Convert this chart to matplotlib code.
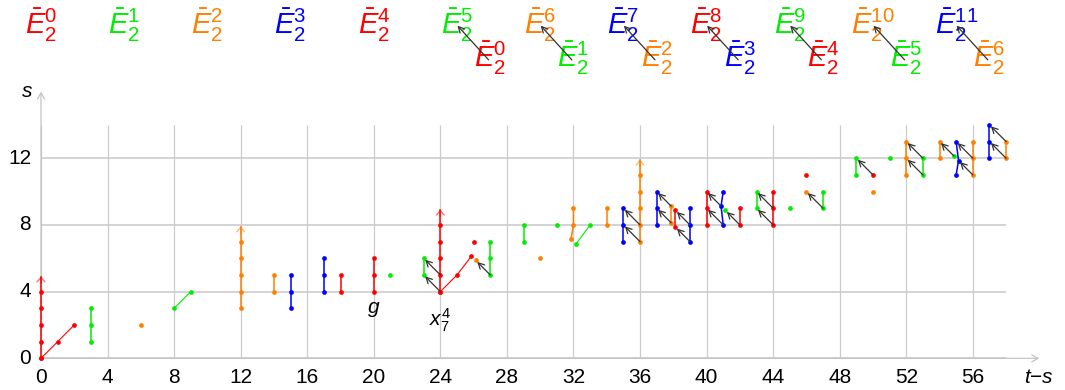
import matplotlib
matplotlib.use("Agg")
import matplotlib.pyplot as plt
from matplotlib.patches import FancyArrowPatch

plt.rcParams['font.family'] = ['Liberation Sans', 'DejaVu Sans']
plt.rcParams['mathtext.fontset'] = 'custom'
plt.rcParams['mathtext.rm'] = 'Liberation Sans'
plt.rcParams['mathtext.it'] = 'Liberation Sans:italic'
plt.rcParams['mathtext.bf'] = 'Liberation Sans:bold'

# ---- data -------------------------------------------------------------
x_ticks = [0, 4, 8, 12, 16, 20, 24, 28, 32, 36, 40, 44, 48, 52, 56]
y_ticks = [0, 4, 8, 12]

palette = ['#ff0000', '#00ee00', '#ff8000', '#0000ff']   # E^0, E^1, E^2, E^3 (mod 4)

# chains of classes joined by multiplication, one list per summand colour
red_chains = [
    [(0, 0), (0, 1), (0, 2), (0, 3), (0, 4)],
    [(0, 0), (1, 1), (2, 2)],
    [(18, 4), (18, 5)],
    [(20, 4), (20, 5), (20, 6)],
    [(24, 4), (24, 5), (24, 6), (24, 7), (24, 8)],
    [(24, 4), (25, 5), (25.87, 6.13)],
    [(38.13, 7.87), (38.13, 8.87)],
    [(40, 8), (40, 9), (40, 10)],
    [(42, 8), (42, 9)],
    [(44, 8), (44, 9), (44, 10)],
]
red_single = [(26, 7), (46, 11), (50, 11)]
red_towers = [(0, 4), (24, 8)]

green_chains = [
    [(3, 1), (3, 2), (3, 3)],
    [(8, 3), (9, 4)],
    [(23, 5), (23, 6)],
    [(27, 5), (27, 6), (27, 7)],
    [(29, 7), (29, 8)],
    [(32.15, 6.85), (33, 8)],
    [(43, 9), (43, 10)],
    [(47, 9), (47, 10)],
    [(49, 11), (49, 12)],
    [(53, 11), (53, 12)],
]
green_single = [(21, 5), (31, 8), (41.13, 8.87), (45, 9), (51, 12), (54.86, 12.14)]
green_towers = []

orange_chains = [
    [(12, 3), (12, 4), (12, 5), (12, 6), (12, 7)],
    [(14, 4), (14, 5)],
    [(31.85, 7.15), (32, 8), (32, 9)],
    [(34, 8), (34, 9)],
    [(36, 7), (36, 8), (36, 9), (36, 10), (36, 11)],
    [(37.87, 8.13), (37.87, 9.13)],
    [(52, 11), (52, 12), (52, 13)],
    [(54, 12), (54, 13)],
    [(56, 11), (56, 12), (56, 13)],
    [(58, 12), (58, 13)],
]
orange_single = [(6, 2), (26.13, 5.87), (30, 6), (46, 10), (50, 10)]
orange_towers = [(12, 7), (36, 11)]

blue_chains = [
    [(15, 3), (15, 4), (15, 5)],
    [(17, 4), (17, 5), (17, 6)],
    [(35, 7), (35, 8), (35, 9)],
    [(37, 8), (37, 9), (37, 10)],
    [(39, 7), (39, 8), (39, 9)],
    [(41, 8), (40.87, 9.13), (41, 10)],
    [(55, 11), (55.14, 11.86), (55, 13)],
    [(57, 12), (57, 13), (57, 14)],
]
blue_single = []
blue_towers = []

# differentials: (source, target)
differentials = [
    ((24, 4), (23, 5)), ((24, 5), (23, 6)), ((27, 5), (26.13, 5.87)),
    ((36, 7), (35, 8)), ((36, 8), (35, 9)),
    ((37.87, 8.13), (37, 9)), ((37.87, 9.13), (37, 10)),
    ((39, 7), (38.13, 7.87)), ((39, 8), (38.13, 8.87)),
    ((41, 8), (40, 9)), ((40.87, 9.13), (40, 10)),
    ((42, 8), (41.13, 8.87)),
    ((44, 8), (43, 9)), ((44, 9), (43, 10)),
    ((47, 9), (46, 10)),
    ((50, 11), (49, 12)),
    ((53, 11), (52, 12)), ((53, 12), (52, 13)),
    ((54.86, 12.14), (54, 13)),
    ((56, 11), (55.14, 11.86)), ((56, 12), (55, 13)),
    ((58, 12), (57, 13)), ((58, 13), (57, 14)),
]

# summand legend: upper row E^0..E^11, lower row shows the summand each one is shifted onto
top_indices = list(range(12))
bottom_indices = [0, 1, 2, 3, 4, 5, 6]          # under E^5 ... E^11

named_classes = [(20, 2.95, r'$g$'), (24, 2.3, r'$x_7^4$')]

# ---- drawing ----------------------------------------------------------
fig = plt.figure(figsize=(10.65, 3.9), dpi=100)
ax = fig.add_axes([0, 0, 1, 1])
ax.set_xlim(-2.464, 61.54)
ax.set_ylim(-1.90, 21.49)
ax.axis('off')

grid_c = '#cccccc'
ax.vlines(x_ticks, 0, 14, color=grid_c, lw=0.9, zorder=1)
ax.hlines(y_ticks, 0, 58, color=grid_c, lw=1.2, zorder=1)

# axes with arrow heads
for (x0, y0, x1, y1) in [(0, 0, 60, 0), (0, 0, 0, 16)]:
    ax.add_patch(FancyArrowPatch((x0, y0), (x1, y1), arrowstyle='->,head_length=0.45,head_width=0.25',
                                 mutation_scale=10, color='#c4c4c4', lw=0.9,
                                 shrinkA=0, shrinkB=0, zorder=1))
ax.text(59.95, -1.15, r'$t{-}s$', fontsize=15, ha='center', va='center')
ax.text(-0.85, 16.0, r'$s$', fontsize=15, ha='center', va='center')

for t in x_ticks:
    ax.text(t, -1.15, str(t), fontsize=15, ha='center', va='center')
for t in y_ticks:
    ax.text(-0.6, t, str(t), fontsize=15, ha='right', va='center')

groups = [
    (palette[0], red_chains, red_single, red_towers),
    (palette[1], green_chains, green_single, green_towers),
    (palette[2], orange_chains, orange_single, orange_towers),
    (palette[3], blue_chains, blue_single, blue_towers),
]
for color, chains, singles, towers in groups:
    for ch in chains:
        xs = [p[0] for p in ch]
        ys = [p[1] for p in ch]
        vertical = max(xs) - min(xs) < 0.3
        ax.plot(xs, ys, color=color, lw=1.1 if vertical else 0.8, zorder=2,
                solid_capstyle='butt')
        ax.plot(xs, ys, 'o', color=color, ms=3.4, mec='none', zorder=3)
    if singles:
        ax.plot([p[0] for p in singles], [p[1] for p in singles], 'o',
                color=color, ms=3.4, mec='none', zorder=3)
    for (x, y) in towers:
        ax.plot([x, x], [y, y + 0.9], color=color, lw=1.1, zorder=2)
        ax.add_patch(FancyArrowPatch((x, y + 0.5), (x, y + 0.92),
                                     arrowstyle='->,head_length=0.32,head_width=0.28',
                                     mutation_scale=10, color=color, alpha=0.55, lw=1.0,
                                     shrinkA=0, shrinkB=0, zorder=2))

for (src, dst) in differentials:
    ax.add_patch(FancyArrowPatch(src, dst, arrowstyle='->,head_length=0.42,head_width=0.22',
                                 mutation_scale=10, color='#333333', lw=0.9,
                                 shrinkA=0, shrinkB=1.5, zorder=4))

for x, y, s in named_classes:
    ax.text(x, y, s, fontsize=15, ha='center', va='center')

for k in top_indices:
    ax.text(5 * k, 20, r'$\bar{E}_2^{%d}$' % k, fontsize=21, ha='center', va='center',
            color=palette[k % 4])
for j, k in enumerate(range(5, 12)):
    idx = bottom_indices[j]
    ax.text(5 * k + 2, 18, r'$\bar{E}_2^{%d}$' % idx, fontsize=21, ha='center', va='center',
            color=palette[idx % 4])
    ax.add_patch(FancyArrowPatch((5 * k + 1.9, 17.9), (5 * k + 0.03, 19.95),
                                 arrowstyle='->,head_length=0.42,head_width=0.22',
                                 mutation_scale=10, color='#333333', lw=0.9,
                                 shrinkA=0, shrinkB=0, zorder=4))

fig.savefig('out.png', dpi=100)
